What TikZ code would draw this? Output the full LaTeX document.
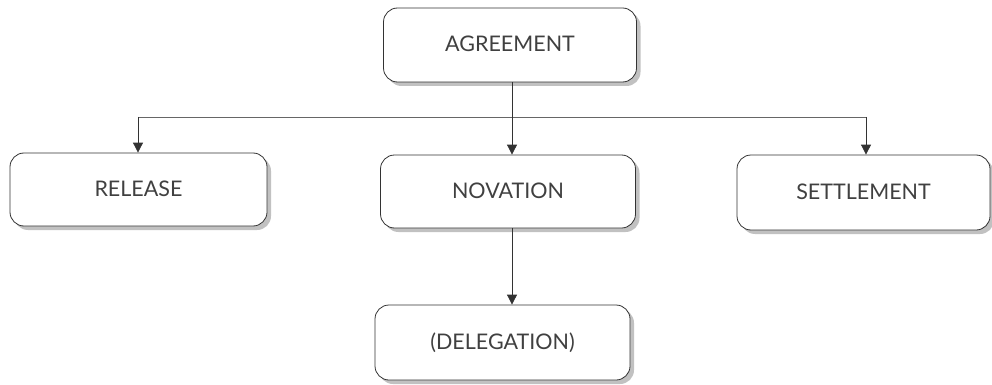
\documentclass[tikz,border=0pt]{standalone}
\usepackage{fontspec}
\setmainfont{Lato}
\usetikzlibrary{shadows,arrows.meta}
\newcommand{\boxtext}[1]{\raisebox{-2.5pt}{#1\vphantom{(}}}
\begin{document}
\begin{tikzpicture}[x=1pt,y=-1pt,
  box/.style={draw=black!80,line width=0.8pt,rounded corners=14pt,fill=white,
    drop shadow={shadow xshift=4pt,shadow yshift=-4pt,fill=black!30,opacity=0.8},
    inner sep=0pt,font=\fontsize{21.5}{24}\selectfont,text=black!75},
  conn/.style={draw=black!80,line width=0.8pt,-{Triangle[length=10pt,width=10pt]}}]
\useasboundingbox (0,0) rectangle (992,385);
\node[box,minimum width=253pt,minimum height=74pt] (agr) at (510,45) {\boxtext{AGREEMENT}};
\node[box,minimum width=257pt,minimum height=73pt] (rel) at (138.5,189.5) {\boxtext{RELEASE}};
\node[box,minimum width=255pt,minimum height=73pt] (nov) at (508,191.5) {\boxtext{NOVATION}};
\node[box,minimum width=253pt,minimum height=75pt] (set) at (863.5,192.5) {\boxtext{SETTLEMENT}};
\node[box,minimum width=255pt,minimum height=75pt] (del) at (502.5,342.5) {\boxtext{(DELEGATION)}};
\coordinate (jn) at (512,117);
\draw[draw=black!80,line width=0.8pt] (agr.south -| jn) -- (jn);
\draw[draw=black!60,line width=0.8pt] (138,117) -- (866,117);
\draw[conn] (jn) -- (jn |- nov.north);
\draw[conn] (138,117) -- (rel.north -| 138,0);
\draw[conn] (866,117) -- (set.north -| 866,0);
\draw[conn] (nov.south -| jn) -- (del.north -| jn);
\end{tikzpicture}
\end{document}
